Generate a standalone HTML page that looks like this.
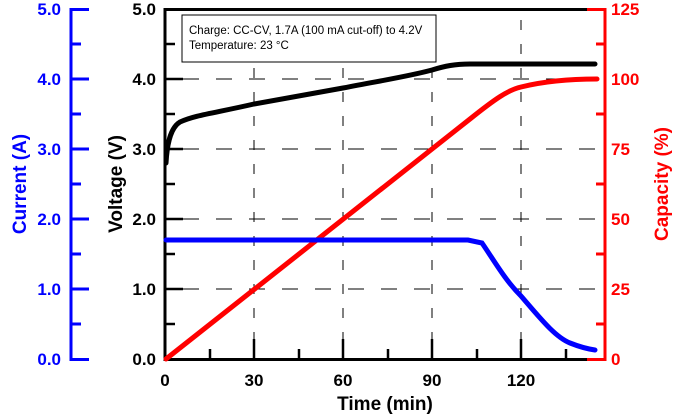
<!DOCTYPE html>
<html><head><meta charset="utf-8"><style>body{margin:0;background:#fff}svg{display:block}</style></head>
<body>
<svg width="680" height="416" viewBox="0 0 680 416" xmlns="http://www.w3.org/2000/svg" font-family="Liberation Sans, sans-serif" font-weight="bold">
<g stroke="#000" stroke-width="1" stroke-dasharray="16,17" fill="none">
<line x1="183" y1="79" x2="605" y2="79"/><line x1="183" y1="149" x2="605" y2="149"/><line x1="183" y1="219" x2="605" y2="219"/><line x1="183" y1="289" x2="605" y2="289"/>
</g>
<g stroke="#000" stroke-width="1" stroke-dasharray="10,14" fill="none">
<line x1="254" y1="20" x2="254" y2="339"/><line x1="343" y1="20" x2="343" y2="339"/><line x1="432" y1="20" x2="432" y2="339"/><line x1="521" y1="20" x2="521" y2="339"/>
</g>
<g stroke="#000" stroke-width="3" fill="none">
<polyline points="588,9.5 165,9.5 165,359.5 588,359.5"/>
</g>
<g stroke="#000" stroke-width="2.5">
<line x1="165" y1="79" x2="183" y2="79"/><line x1="165" y1="149" x2="183" y2="149"/><line x1="165" y1="219" x2="183" y2="219"/><line x1="165" y1="289" x2="183" y2="289"/>
<line x1="165" y1="44" x2="175" y2="44"/><line x1="165" y1="114" x2="175" y2="114"/><line x1="165" y1="184" x2="175" y2="184"/><line x1="165" y1="254" x2="175" y2="254"/><line x1="165" y1="324" x2="175" y2="324"/>
<line x1="254" y1="359" x2="254" y2="339"/><line x1="343" y1="359" x2="343" y2="339"/><line x1="432" y1="359" x2="432" y2="339"/><line x1="521" y1="359" x2="521" y2="339"/>
<line x1="210" y1="359" x2="210" y2="349"/><line x1="299" y1="359" x2="299" y2="349"/><line x1="388" y1="359" x2="388" y2="349"/><line x1="477" y1="359" x2="477" y2="349"/><line x1="566" y1="359" x2="566" y2="349"/>
</g>
<g font-size="17" text-anchor="end" fill="#000">
<text x="156" y="15">5.0</text><text x="156" y="85">4.0</text><text x="156" y="155">3.0</text><text x="156" y="225">2.0</text><text x="156" y="295">1.0</text><text x="156" y="365">0.0</text>
</g>
<g font-size="17" text-anchor="middle" fill="#000">
<text x="165" y="386">0</text><text x="254" y="386">30</text><text x="343" y="386">60</text><text x="432" y="386">90</text><text x="521" y="386">120</text>
<text x="385" y="410" font-size="19">Time (min)</text>
</g>
<text transform="translate(122,184) rotate(-90)" font-size="19" text-anchor="middle">Voltage (V)</text>
<g stroke="#00f" stroke-width="3">
<line x1="71" y1="8" x2="71" y2="361"/>
<line x1="71" y1="9.5" x2="89" y2="9.5"/><line x1="71" y1="79" x2="89" y2="79"/><line x1="71" y1="149" x2="89" y2="149"/><line x1="71" y1="219" x2="89" y2="219"/><line x1="71" y1="289" x2="89" y2="289"/><line x1="71" y1="359.5" x2="89" y2="359.5"/>
<line x1="71" y1="44" x2="81" y2="44"/><line x1="71" y1="114" x2="81" y2="114"/><line x1="71" y1="184" x2="81" y2="184"/><line x1="71" y1="254" x2="81" y2="254"/><line x1="71" y1="324" x2="81" y2="324"/>
</g>
<g font-size="17" text-anchor="end" fill="#00f">
<text x="61" y="15">5.0</text><text x="61" y="85">4.0</text><text x="61" y="155">3.0</text><text x="61" y="225">2.0</text><text x="61" y="295">1.0</text><text x="61" y="365">0.0</text>
</g>
<text transform="translate(26,184) rotate(-90)" font-size="19" text-anchor="middle" fill="#00f">Current (A)</text>
<g stroke="#f00" stroke-width="3">
<line x1="587" y1="9.5" x2="606" y2="9.5"/><line x1="587" y1="359.5" x2="606" y2="359.5"/><line x1="605" y1="8" x2="605" y2="361"/>
<line x1="596" y1="44" x2="605" y2="44"/><line x1="596" y1="114" x2="605" y2="114"/><line x1="596" y1="184" x2="605" y2="184"/><line x1="596" y1="254" x2="605" y2="254"/><line x1="596" y1="324" x2="605" y2="324"/>
</g>
<g font-size="17" fill="#f00">
<text x="611" y="15">125</text><text x="611" y="85">100</text><text x="611" y="155">75</text><text x="611" y="225">50</text><text x="611" y="295">25</text><text x="611" y="365">0</text>
</g>
<text transform="translate(668,184) rotate(-90)" font-size="19" text-anchor="middle" fill="#f00">Capacity (%)</text>
<rect x="182" y="15" width="254" height="47" fill="#fff" stroke="#000" stroke-width="1"/>
<g font-size="11.5" font-weight="normal" fill="#000"><text x="189" y="34">Charge: CC-CV, 1.7A (100 mA cut-off) to 4.2V</text><text x="189" y="49">Temperature: 23 °C</text></g>
<path d="M166,163 C167,145 170,128 180,122 C195,115 215,113 254,104 L343,88 C390,79 410,76 432,70 C445,66 455,64 470,64 L595,64" fill="none" stroke="#000" stroke-width="5" stroke-linecap="round"/>
<path d="M166,359 L470,119 C495,99 508,90 521,87 C545,81 570,79 597,79" fill="none" stroke="#f00" stroke-width="5" stroke-linecap="round"/>
<path d="M166,240 L468,240 L482,243 C495,262 505,280 521,296 C540,318 555,337 570,343 C580,347 588,349 595,350" fill="none" stroke="#00f" stroke-width="5" stroke-linecap="round"/>
</svg>
</body></html>
